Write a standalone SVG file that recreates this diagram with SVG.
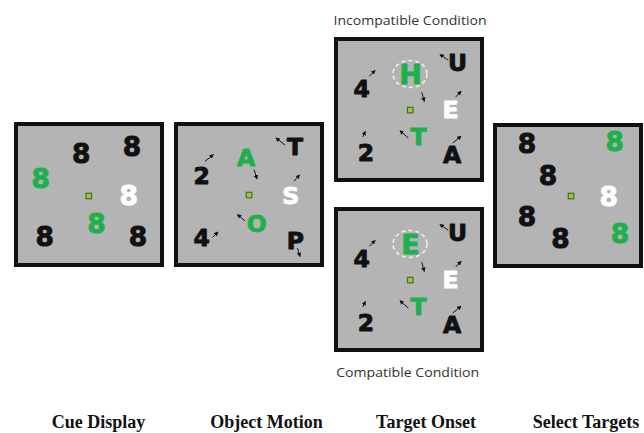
<svg xmlns="http://www.w3.org/2000/svg" width="644" height="433" viewBox="0 0 644 433">
<style>
.pn{fill:#b4b4b4;stroke:#111;stroke-width:4}
.g{font-family:"DejaVu Sans",sans-serif;font-weight:bold;font-size:23.5px;text-anchor:middle;stroke-width:0.9;stroke-linejoin:round}
.e8{font-size:26.5px}
.big{font-size:27px}
.k{fill:#111;stroke:#111}.gr{fill:#1fb04d;stroke:#1fb04d}.w{fill:#fff;stroke:#fff}
.fx{fill:#9ccc3c;stroke:#4d6b1e;stroke-width:1.2}
.ar{stroke:#111;stroke-width:1;fill:none;marker-end:url(#ah)}
.ring{fill:none;stroke:#f2f2f2;stroke-width:1.5;stroke-dasharray:4 3}
.lb{font-family:"Liberation Serif",serif;font-weight:bold;font-size:18px;text-anchor:middle;fill:#111}
.cd{font-family:"Open Sans",sans-serif;font-size:13px;fill:#333;text-anchor:middle}
</style>
<defs>
<marker id="ah" viewBox="0 0 6 6" refX="5" refY="3" markerWidth="4.5" markerHeight="4.5" orient="auto" markerUnits="userSpaceOnUse"><path d="M0,0 L6,3 L0,6 z" fill="#111"/></marker>
</defs>
<rect width="644" height="433" fill="#fff"/>

<g id="cue-display">
<rect class="pn" x="16" y="124" width="146" height="141"/>
<text class="g e8 k" x="81.3" y="163.2">8</text>
<text class="g e8 k" x="132" y="156.2">8</text>
<text class="g e8 gr" x="40.7" y="187.7">8</text>
<text class="g e8 w" x="128.7" y="204.7">8</text>
<text class="g e8 gr" x="96.5" y="232.7">8</text>
<text class="g e8 k" x="44.7" y="246">8</text>
<text class="g e8 k" x="138" y="245.7">8</text>
<rect class="fx" x="86" y="193.3" width="5.5" height="5.5"/>
</g>

<g id="object-motion">
<rect class="pn" x="176" y="124" width="146" height="141"/>
<text class="g k" x="201.7" y="184">2</text>
<text class="g gr" x="246" y="165.6">A</text>
<text class="g k" x="295" y="154.9">T</text>
<text class="g w" x="290.8" y="204.1">S</text>
<text class="g gr" x="256.7" y="232.1">O</text>
<text class="g k" x="201.7" y="246.1">4</text>
<text class="g k" x="295.3" y="249.1">P</text>
<rect class="fx" x="246.3" y="192.3" width="5.5" height="5.5"/>
</g>

<g id="incompatible-condition">
<text class="cd" x="410" y="25" textLength="153" lengthAdjust="spacingAndGlyphs">Incompatible Condition</text>
<rect class="pn" x="336" y="39" width="146" height="141"/>
<ellipse class="ring" cx="410" cy="74" rx="17" ry="13.5"/>
<text class="g big gr" x="410.5" y="84">H</text>
<text class="g k" x="457.5" y="71.1">U</text>
<text class="g k" x="361.7" y="96.6">4</text>
<text class="g w" x="450.5" y="117.6">E</text>
<text class="g gr" x="418.5" y="144.6">T</text>
<text class="g k" x="366" y="160.6">2</text>
<text class="g k" x="452" y="163.3">A</text>
<rect class="fx" x="407.5" y="107.3" width="5.5" height="5.5"/>
</g>

<g id="compatible-condition">
<rect class="pn" x="336" y="209" width="146" height="141"/>
<ellipse class="ring" cx="410" cy="244" rx="17" ry="13.5"/>
<text class="g big gr" x="410.5" y="254">E</text>
<text class="g k" x="457.5" y="241.1">U</text>
<text class="g k" x="361.7" y="266.6">4</text>
<text class="g w" x="450.5" y="287.6">E</text>
<text class="g gr" x="418.5" y="314.6">T</text>
<text class="g k" x="366" y="330.6">2</text>
<text class="g k" x="452" y="333.3">A</text>
<rect class="fx" x="407.5" y="277.3" width="5.5" height="5.5"/>
<text class="cd" x="407.7" y="376.5" textLength="143" lengthAdjust="spacingAndGlyphs">Compatible Condition</text>
</g>

<g id="select-targets">
<rect class="pn" x="495" y="125" width="146" height="141"/>
<text class="g e8 k" x="527" y="153">8</text>
<text class="g e8 gr" x="614.7" y="150.7">8</text>
<text class="g e8 k" x="548" y="184.7">8</text>
<text class="g e8 w" x="608.7" y="205.5">8</text>
<text class="g e8 k" x="527" y="225.7">8</text>
<text class="g e8 gr" x="620" y="243">8</text>
<text class="g e8 k" x="560.5" y="247.5">8</text>
<rect class="fx" x="568.3" y="193.3" width="5.5" height="5.5"/>
</g>

<g id="connectors">
<line class="ar" x1="205" y1="161.3" x2="213.3" y2="154.7"/>
<line class="ar" x1="254" y1="169.7" x2="257" y2="178.7"/>
<line class="ar" x1="285" y1="145" x2="276" y2="138"/>
<line class="ar" x1="294" y1="181.3" x2="299.5" y2="175"/>
<line class="ar" x1="245" y1="221" x2="237.5" y2="214.5"/>
<line class="ar" x1="212.5" y1="237.5" x2="218" y2="232"/>
<line class="ar" x1="297.5" y1="248" x2="300" y2="256.5"/>

<line class="ar" x1="448.3" y1="60.3" x2="440" y2="54.5"/>
<line class="ar" x1="369.3" y1="76.3" x2="375" y2="70.5"/>
<line class="ar" x1="421.7" y1="92.3" x2="424.3" y2="101.3"/>
<line class="ar" x1="455.7" y1="97" x2="461" y2="91.3"/>
<line class="ar" x1="408.3" y1="138" x2="400" y2="130.7"/>
<line class="ar" x1="362.7" y1="137" x2="365.3" y2="131.5"/>
<line class="ar" x1="452.7" y1="143" x2="461" y2="136.3"/>

<line class="ar" x1="448.3" y1="230.3" x2="440" y2="224.5"/>
<line class="ar" x1="369.3" y1="246.3" x2="375" y2="240.5"/>
<line class="ar" x1="421.7" y1="262.3" x2="424.3" y2="271.3"/>
<line class="ar" x1="455.7" y1="267" x2="461" y2="261.3"/>
<line class="ar" x1="408.3" y1="308" x2="400" y2="300.7"/>
<line class="ar" x1="362.7" y1="307" x2="365.3" y2="301.5"/>
<line class="ar" x1="452.7" y1="313" x2="461" y2="306.3"/>
</g>

<g id="labels">
<text class="lb" x="98.5" y="427.5">Cue Display</text>
<text class="lb" x="266.5" y="427.5">Object Motion</text>
<text class="lb" x="426" y="427.5">Target Onset</text>
<text class="lb" x="586" y="427.5">Select Targets</text>
</g>
</svg>
